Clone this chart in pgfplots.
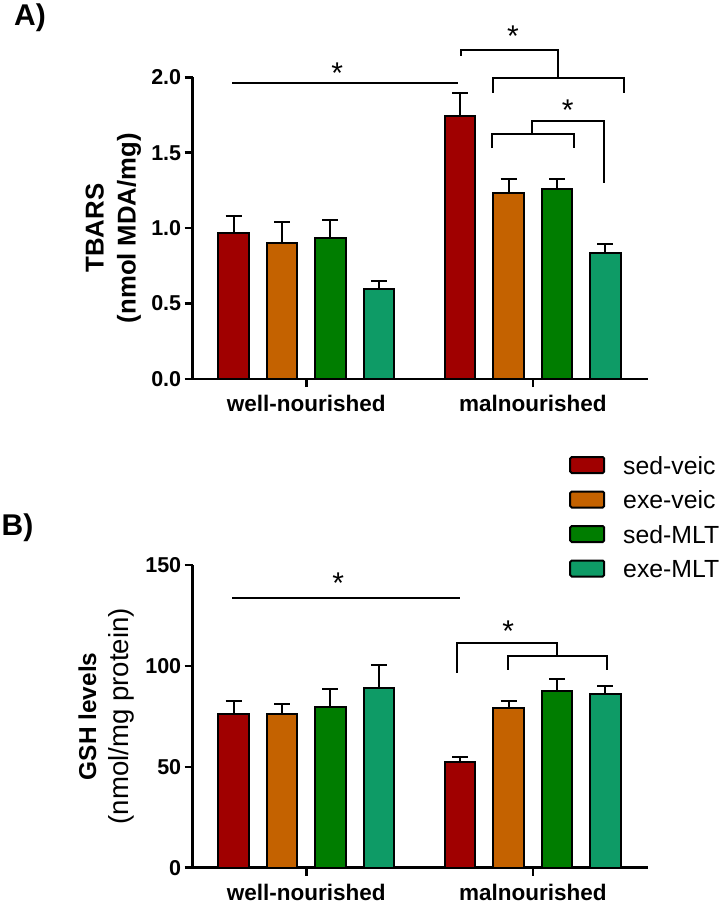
\documentclass[border=0pt]{standalone}
\usepackage{fontspec}
\setmainfont{Liberation Sans}
\usepackage{pgfplots}
\usepackage{pgfplotstable}
\pgfplotsset{compat=1.18}

\definecolor{sedveic}{RGB}{160,0,0}
\definecolor{exeveic}{RGB}{196,98,0}
\definecolor{sedmlt}{RGB}{0,125,0}
\definecolor{exemlt}{RGB}{14,155,102}

% TBARS (nmol MDA/mg): mean and SEM per group
\pgfplotstableread{
base  sv     sve    ev     eve    sm     sme    em     eme
1     0.966  0.117  0.900  0.139  0.937  0.119  0.595  0.053
5.68  1.744  0.155  1.235  0.089  1.258  0.066  0.836  0.057
}\tbars

% GSH (nmol/mg protein): mean and SEM per group
\pgfplotstableread{
base  sv     sve    ev     eve    sm     sme    em     eme
1     76.2   6.6    76.2   4.9    79.5   9.1    88.9   11.7
5.68  52.4   2.6    79.0   3.8    87.6   6.1    86.2   4.0
}\gsh

\pgfplotsset{
  panel/.style={
    scale only axis, width=455.3pt,
    xmin=0.153, xmax=9.56,
    axis x line*=bottom, axis y line*=left,
    axis line style={line width=2.5pt, black},
    tick style={line width=2.5pt, black},
    major tick length=8pt, tick align=outside,
    xtick={2.5,7.18},
    xticklabels={well-nourished,malnourished},
    xticklabel style={font=\fontsize{22.5}{26}\selectfont\bfseries, yshift=-5pt},
    yticklabel style={font=\fontsize{21.5}{24}\selectfont\bfseries},
    /pgf/number format/assume math mode=true,
    ylabel style={align=center, anchor=center},
    clip=false,
  },
  grp/.style={ybar, bar width=0.63, bar shift=0pt, draw=black, line width=2pt, fill=#1,
    error bars/.cd, y dir=plus, y explicit,
    error bar style={line width=2pt, black},
    error mark options={rotate=90, mark size=8pt, line width=2pt, black}},
}
\tikzset{sig/.style={line width=2pt, black}}
\newcommand{\sigstar}[2]{\node[font=\fontsize{30}{30}\selectfont, anchor=base, yshift=-17pt, inner sep=0pt] at (axis cs:#1,#2) {*};}

\begin{document}
\begin{tikzpicture}
\path[use as bounding box] (0,0) rectangle (720pt,-904pt);

\node[font=\fontsize{30}{36}\selectfont\bfseries] at (30pt,-17.5pt) {A)};
\node[font=\fontsize{30}{36}\selectfont\bfseries] at (17.5pt,-528pt) {B)};

% Panel A: TBARS
\begin{axis}[panel, at={(192.7pt,-379pt)}, anchor=south west,
  height=301.7pt, ymin=0, ymax=2, ytick={0,0.5,1,1.5,2},
  yticklabel style={/pgf/number format/.cd, fixed, fixed zerofill, precision=1},
  ylabel={\fontsize{25.8}{32}\selectfont\bfseries TBARS\\\fontsize{25.7}{32}\selectfont\bfseries (nmol MDA/mg)},
  ylabel style={font=\fontsize{25.8}{32}\selectfont\bfseries, at={(axis description cs:-0.1744,0.5)}},
]
\addplot[grp=sedveic] table[x expr=\thisrow{base}+0, y=sv, y error=sve] {\tbars};
\addplot[grp=exeveic] table[x expr=\thisrow{base}+1, y=ev, y error=eve] {\tbars};
\addplot[grp=sedmlt]  table[x expr=\thisrow{base}+2, y=sm, y error=sme] {\tbars};
\addplot[grp=exemlt]  table[x expr=\thisrow{base}+3, y=em, y error=eme] {\tbars};

\draw[sig] (axis cs:0.97,1.961) -- (axis cs:5.63,1.961);
\sigstar{3.14}{2.071}
\draw[sig] (axis cs:5.69,2.142) -- (axis cs:5.69,2.182) -- (axis cs:7.70,2.182) -- (axis cs:7.70,1.994);
\draw[sig] (axis cs:6.35,1.899) -- (axis cs:6.35,1.994) -- (axis cs:9.07,1.994) -- (axis cs:9.07,1.899);
\sigstar{6.77}{2.314}
\draw[sig] (axis cs:6.33,1.530) -- (axis cs:6.33,1.625) -- (axis cs:8.04,1.625) -- (axis cs:8.04,1.530);
\draw[sig] (axis cs:7.17,1.625) -- (axis cs:7.17,1.713) -- (axis cs:8.65,1.713) -- (axis cs:8.65,1.298);
\sigstar{7.90}{1.828}
\end{axis}

% Panel B: GSH
\begin{axis}[panel, at={(192.7pt,-867.7pt)}, anchor=south west,
  height=302.7pt, ymin=0, ymax=150, ytick={0,50,100,150},
  ylabel={\fontsize{24.4}{32}\selectfont\bfseries GSH levels\\\fontsize{27.6}{32}\selectfont\mdseries (nmol/mg protein)},
  ylabel style={font=\fontsize{24.4}{32}\selectfont\bfseries, at={(axis description cs:-0.190,0.5)}},
  legend style={at={(axis description cs:0.827,1.36)}, anchor=north west,
    draw=none, fill=none, inner sep=0pt, outer sep=0pt,
    row sep=16.5pt, column sep=18pt,
    font=\fontsize{24.8}{28}\selectfont,
    nodes={inner sep=0pt, text height=18pt, text depth=0pt}},
  legend cell align=left,
  legend image code/.code={\draw[#1, line width=2pt, rounded corners=1.5pt] (0pt,-8pt) rectangle (34pt,8pt);},
]
\addplot[grp=sedveic] table[x expr=\thisrow{base}+0, y=sv, y error=sve] {\gsh};
\addplot[grp=exeveic] table[x expr=\thisrow{base}+1, y=ev, y error=eve] {\gsh};
\addplot[grp=sedmlt]  table[x expr=\thisrow{base}+2, y=sm, y error=sme] {\gsh};
\addplot[grp=exemlt]  table[x expr=\thisrow{base}+3, y=em, y error=eme] {\gsh};
\legend{sed-veic,exe-veic,sed-MLT,exe-MLT}

\draw[sig] (axis cs:0.97,133.8) -- (axis cs:5.68,133.8);
\sigstar{3.16}{144.5}
\draw[sig] (axis cs:5.61,96.6) -- (axis cs:5.61,111.2) -- (axis cs:7.69,111.2) -- (axis cs:7.69,105.1);
\draw[sig] (axis cs:6.66,98.0) -- (axis cs:6.66,105.1) -- (axis cs:8.71,105.1) -- (axis cs:8.71,98.0);
\sigstar{6.67}{120.3}
\end{axis}
\end{tikzpicture}
\end{document}
